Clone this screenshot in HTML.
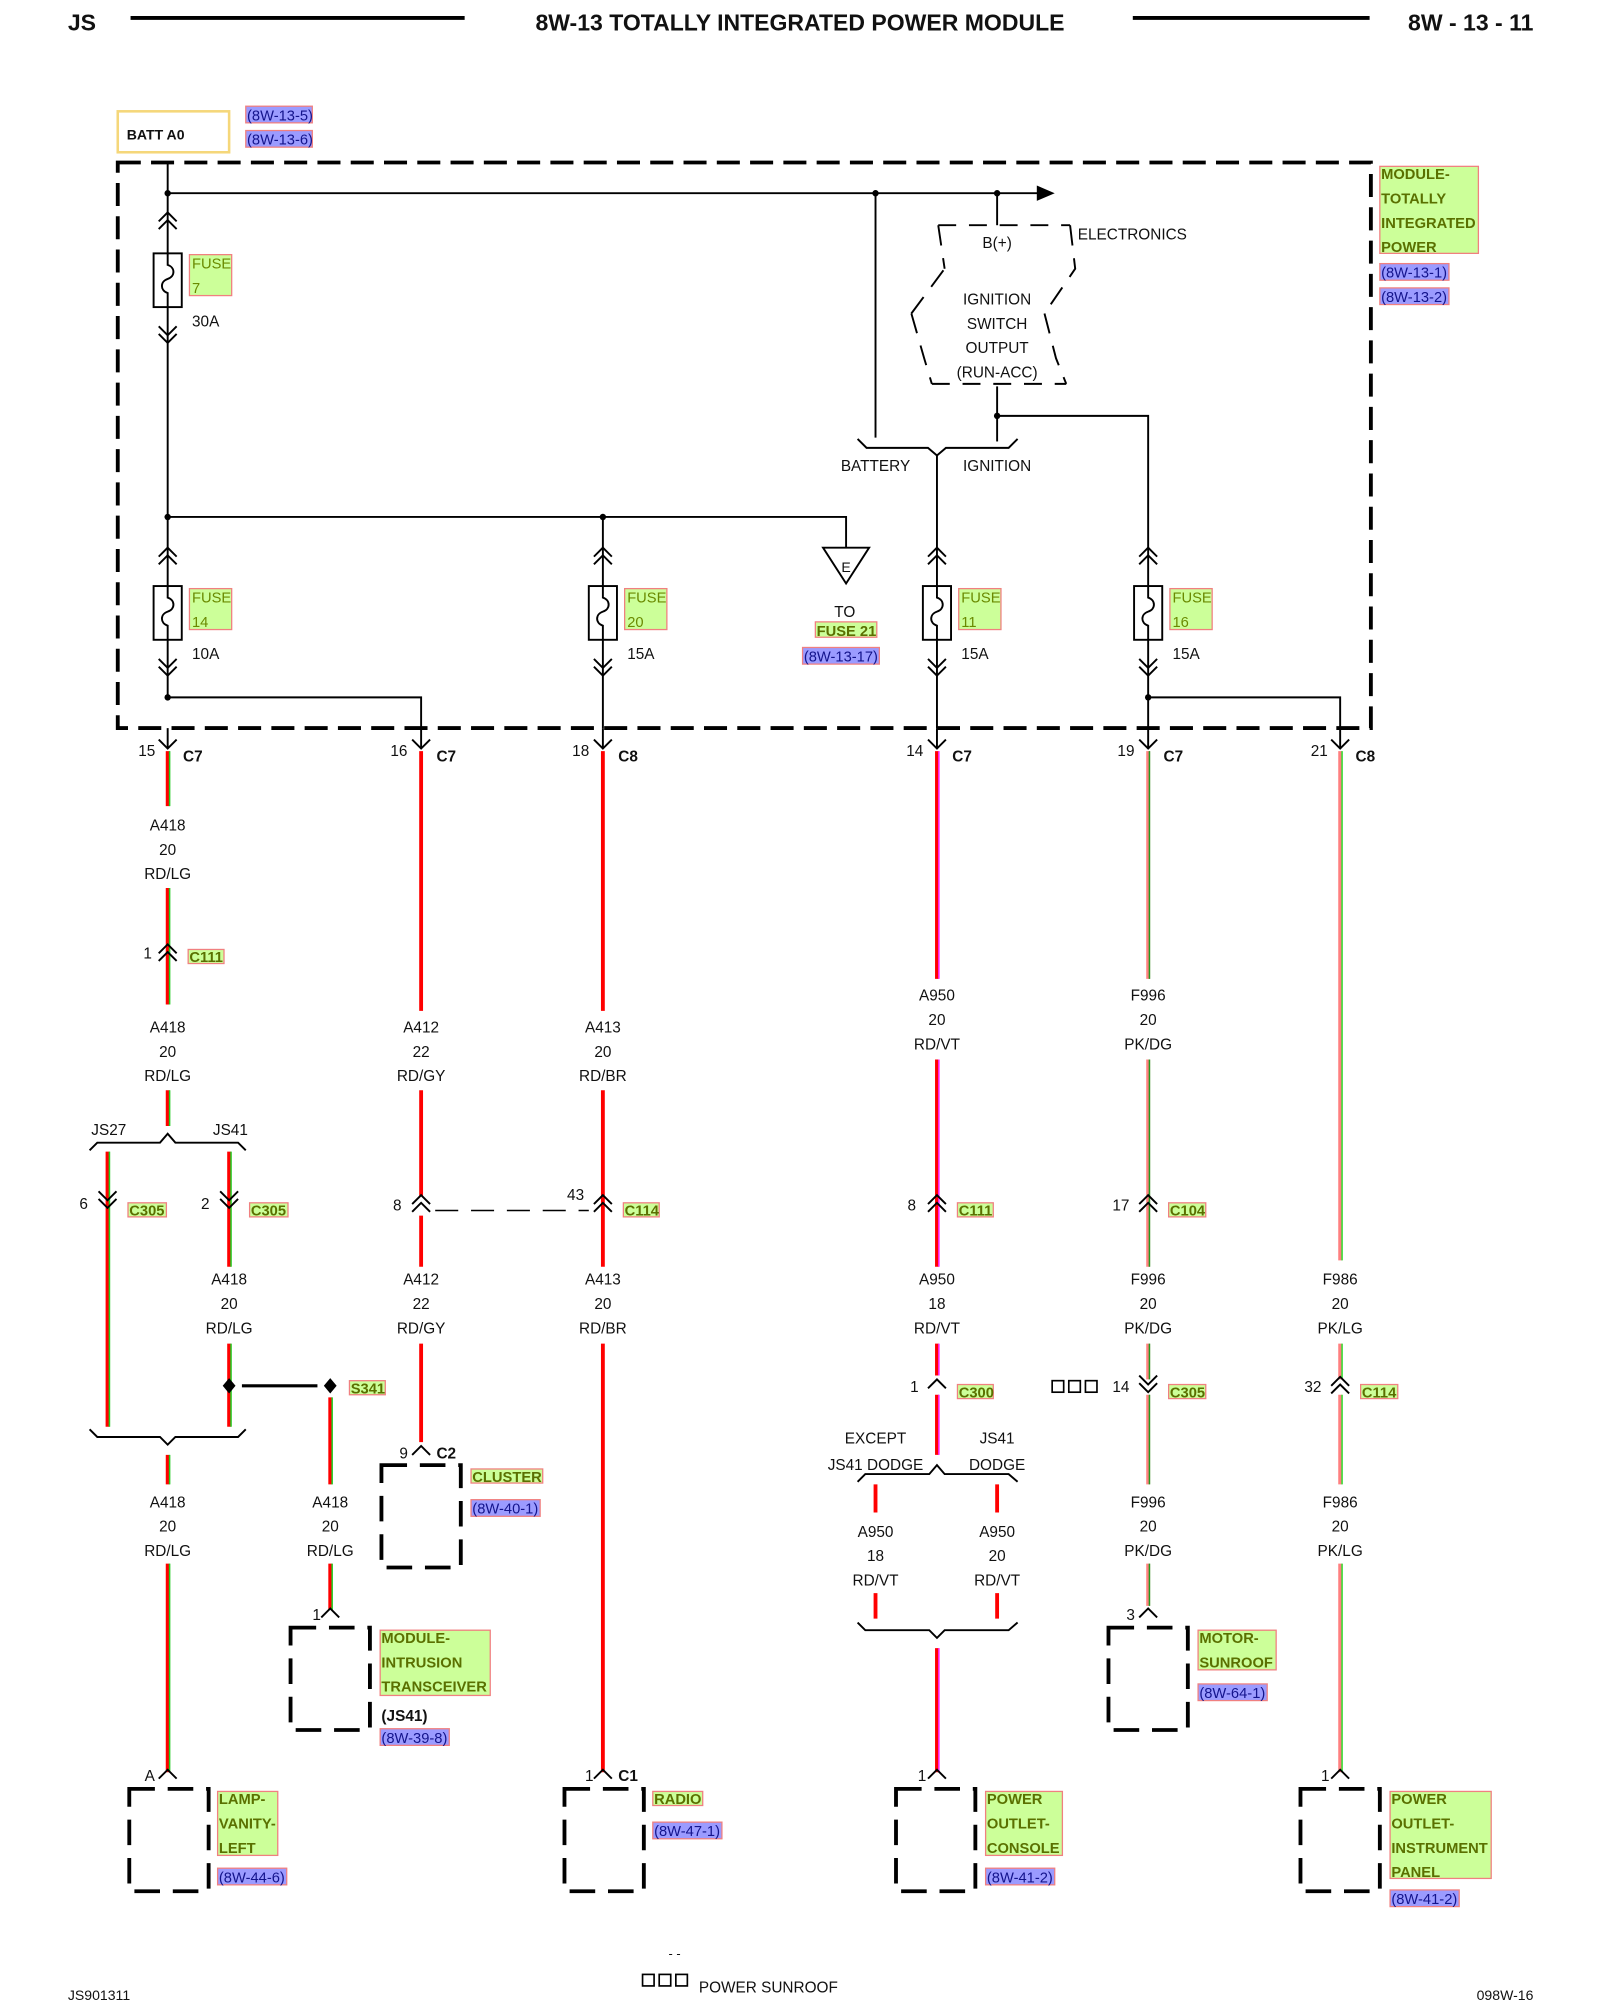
<!DOCTYPE html>
<html><head><meta charset="utf-8"><style>
html,body{margin:0;padding:0;background:#fff}
svg{display:block}
text{font-family:"Liberation Sans",Arial,sans-serif;font-size:12px;fill:#111}
.c{text-anchor:middle}
.b{font-weight:bold}
.k{stroke:#000;fill:none;stroke-width:1.5}
.gl{fill:#ccff99;stroke:#f08080;stroke-width:1}
.gt{fill:#5a7000;font-weight:bold;font-size:11.5px}
.ft{fill:#6a8a00;font-size:11.5px}
.pl{fill:#9b9bff;stroke:#f08080;stroke-width:1}
.pt{fill:#14148c;font-size:11.5px}
.box{fill:none;stroke:#000;stroke-width:3;stroke-dasharray:20 10}
</style></head><body>
<svg width="1600" height="2000" viewBox="0 0 1250 1563" preserveAspectRatio="none" xmlns="http://www.w3.org/2000/svg">
<defs>
<path id="cu" d="M-7,7 L0,0 L7,7" fill="none" stroke="#000" stroke-width="1.5"/>
<path id="du" d="M-7,7 L0,0 L7,7 M-7,13 L0,6 L7,13" fill="none" stroke="#000" stroke-width="1.5"/>
<path id="dd" d="M-7,-7 L0,0 L7,-7 M-7,-13 L0,-6 L7,-13" fill="none" stroke="#000" stroke-width="1.5"/>
<path id="vd" d="M-7,-7 L0,0 L7,-7" fill="none" stroke="#000" stroke-width="1.5"/>
<g id="fuse"><rect x="-11" y="-21" width="22" height="42" fill="#fff" stroke="#000" stroke-width="1.5"/><path d="M0,-21 V-12 C6,-10 6,-3 0,-1 C-6,1 -6,8 0,10 V21" fill="none" stroke="#000" stroke-width="1.5"/></g>
</defs>

<!-- header -->
<text x="53" y="24" class="b" style="font-size:18px">JS</text>
<line x1="102" y1="14" x2="363" y2="14" stroke="#000" stroke-width="3"/>
<text x="625" y="24" class="b c" style="font-size:18px">8W-13 TOTALLY INTEGRATED POWER MODULE</text>
<line x1="885" y1="14" x2="1070" y2="14" stroke="#000" stroke-width="3"/>
<text x="1198" y="24" class="b" style="font-size:18px;text-anchor:end">8W - 13 - 11</text>

<!-- BATT -->
<rect x="92" y="87" width="87" height="32" fill="none" stroke="#f5d77a" stroke-width="2"/>
<text x="99" y="109" class="b" style="font-size:11px">BATT A0</text>
<rect x="192" y="83" width="52" height="13" class="pl"/><text x="193" y="94" class="pt">(8W-13-5)</text>
<rect x="192" y="102" width="52" height="13" class="pl"/><text x="193" y="113" class="pt">(8W-13-6)</text>

<!-- module dashed box -->
<rect x="92" y="127" width="979" height="442" fill="none" stroke="#000" stroke-width="3" stroke-dasharray="18 8"/>
<rect x="1078" y="130" width="77" height="68" class="gl"/>
<text x="1079" y="140" class="gt">MODULE-</text><text x="1079" y="159" class="gt">TOTALLY</text><text x="1079" y="178" class="gt">INTEGRATED</text><text x="1079" y="197" class="gt">POWER</text>
<rect x="1078" y="206" width="54" height="13" class="pl"/><text x="1079" y="217" class="pt">(8W-13-1)</text>
<rect x="1078" y="225" width="54" height="13" class="pl"/><text x="1079" y="236" class="pt">(8W-13-2)</text>

<!-- internal wiring -->
<g class="k">
<path d="M131,127 V545 H329 V569"/>
<path d="M131,151 H812"/>
<path d="M684,151 V342"/>
<path d="M779,151 V176"/>
<path d="M131,404 H661 V428"/>
<path d="M471,404 V569"/>
<path d="M779,302 V325 H897 V569"/>
<path d="M779,325 V345"/>
<path d="M732,355 V569"/>
<path d="M897,545 H1047 V569"/>
<path d="M670,343 L677,350 H725 L732,356 L739,350 H788 L795,343"/>
<path d="M733,176 L738,210 M712,245 L738,210 M712,245 L722,280 L728,300 M836,176 L840,210 L816,245 M816,245 L825,280 L833,300" stroke-dasharray="16 10"/>
<path d="M733,176 H836 M728,300 H833" stroke-dasharray="14 10"/>
<path d="M643,428 H679 L661,456 Z" fill="#fff"/>
</g>
<path d="M810,145 L824,151 L810,157 Z" fill="#000"/>
<circle cx="131" cy="151" r="2.5"/><circle cx="684" cy="151" r="2.5"/><circle cx="779" cy="151" r="2.5"/>
<circle cx="131" cy="404" r="2.5"/><circle cx="471" cy="404" r="2.5"/><circle cx="779" cy="325" r="2.5"/>
<circle cx="131" cy="545" r="2.5"/><circle cx="897" cy="545" r="2.5"/>
<text x="661" y="447" class="c" style="font-size:11px">E</text>

<text x="779" y="194" class="c">B(+)</text>
<text x="842" y="187">ELECTRONICS</text>
<text x="779" y="238" class="c">IGNITION</text>
<text x="779" y="257" class="c">SWITCH</text>
<text x="779" y="276" class="c">OUTPUT</text>
<text x="779" y="295" class="c">(RUN-ACC)</text>
<text x="684" y="368" class="c">BATTERY</text>
<text x="779" y="368" class="c">IGNITION</text>

<!-- fuses -->
<use href="#du" x="131" y="166"/><use href="#fuse" x="131" y="219"/><use href="#dd" x="131" y="268"/>
<rect x="148" y="199" width="33" height="32" class="gl"/><text x="150" y="210" class="ft">FUSE</text><text x="150" y="229" class="ft">7</text>
<text x="150" y="255">30A</text>

<use href="#du" x="131" y="428"/><use href="#fuse" x="131" y="479"/><use href="#dd" x="131" y="528"/>
<rect x="148" y="460" width="33" height="32" class="gl"/><text x="150" y="471" class="ft">FUSE</text><text x="150" y="490" class="ft">14</text>
<text x="150" y="515">10A</text>

<use href="#du" x="471" y="428"/><use href="#fuse" x="471" y="479"/><use href="#dd" x="471" y="528"/>
<rect x="488" y="460" width="33" height="32" class="gl"/><text x="490" y="471" class="ft">FUSE</text><text x="490" y="490" class="ft">20</text>
<text x="490" y="515">15A</text>

<use href="#du" x="732" y="428"/><use href="#fuse" x="732" y="479"/><use href="#dd" x="732" y="528"/>
<rect x="749" y="460" width="33" height="32" class="gl"/><text x="751" y="471" class="ft">FUSE</text><text x="751" y="490" class="ft">11</text>
<text x="751" y="515">15A</text>

<use href="#du" x="897" y="428"/><use href="#fuse" x="897" y="479"/><use href="#dd" x="897" y="528"/>
<rect x="914" y="460" width="33" height="32" class="gl"/><text x="916" y="471" class="ft">FUSE</text><text x="916" y="490" class="ft">16</text>
<text x="916" y="515">15A</text>

<text x="660" y="482" class="c">TO</text>
<rect x="637" y="486" width="48" height="12" class="gl"/><text x="638" y="497" class="gt">FUSE 21</text>
<rect x="627" y="506" width="60" height="13" class="pl"/><text x="628" y="517" class="pt">(8W-13-17)</text>

<!-- connector row -->
<g>
<use href="#vd" x="131" y="585"/><use href="#vd" x="329" y="585"/><use href="#vd" x="471" y="585"/>
<use href="#vd" x="732" y="585"/><use href="#vd" x="897" y="585"/><use href="#vd" x="1047" y="585"/>
<path d="M131,569 V585 M329,569 V585 M471,569 V585 M732,569 V585 M897,569 V585 M1047,569 V585" stroke="#000" stroke-width="1.5"/>
</g>
<text x="108" y="591">15</text><text x="143" y="595" class="b">C7</text>
<text x="305" y="591">16</text><text x="341" y="595" class="b">C7</text>
<text x="447" y="591">18</text><text x="483" y="595" class="b">C8</text>
<text x="708" y="591">14</text><text x="744" y="595" class="b">C7</text>
<text x="873" y="591">19</text><text x="909" y="595" class="b">C7</text>
<text x="1024" y="591">21</text><text x="1059" y="595" class="b">C8</text>

<!-- wires -->
<g stroke-width="3">
<g stroke="#ff0000">
<path d="M131,587 V630 M131,694 V785 M131,852 V880 M84,900 V1115 M179,900 V990 M179,1050 V1115 M258,1092 V1160 M131,1137 V1160 M131,1222 V1385 M258,1222 V1258"/>
<path d="M329,587 V790 M329,852 V935 M329,950 V990 M329,1050 V1127"/>
<path d="M471,587 V790 M471,852 V990 M471,1050 V1385"/>
<path d="M732,587 V765 M732,828 V990 M732,1050 V1075 M732,1090 V1137 M684,1160 V1182 M779,1160 V1182 M684,1245 V1265 M779,1245 V1265 M732,1288 V1385"/>
</g>
<g stroke="#ff8080">
<path d="M897,587 V765 M897,828 V990 M897,1050 V1078 M897,1090 V1160 M897,1222 V1255"/>
<path d="M1047,587 V985 M1047,1050 V1078 M1047,1090 V1160 M1047,1222 V1385"/>
</g>
</g>
<g stroke-width="1.2" fill="none">
<path stroke="#22cc22" d="M132.5,587 V630 M132.5,694 V785 M132.5,852 V880 M85.5,900 V1115 M180.5,900 V990 M180.5,1050 V1115 M259.5,1092 V1160 M132.5,1137 V1160 M132.5,1222 V1385 M259.5,1222 V1258"/>
<path stroke="#ff22ff" d="M733.5,587 V765 M733.5,828 V990 M733.5,1050 V1075 M733.5,1090 V1137 M733.5,1288 V1385"/>
<path stroke="#229922" d="M898,587 V765 M898,828 V990 M898,1050 V1078 M898,1090 V1160 M898,1222 V1255"/>
<path stroke="#33dd33" d="M1048.5,587 V985 M1048.5,1050 V1078 M1048.5,1090 V1160 M1048.5,1222 V1385"/>
</g>

<!-- wire labels -->
<g>
<text x="131" y="649" class="c">A418</text><text x="131" y="668" class="c">20</text><text x="131" y="687" class="c">RD/LG</text>
<text x="131" y="807" class="c">A418</text><text x="131" y="826" class="c">20</text><text x="131" y="845" class="c">RD/LG</text>
<text x="179" y="1004" class="c">A418</text><text x="179" y="1023" class="c">20</text><text x="179" y="1042" class="c">RD/LG</text>
<text x="131" y="1178" class="c">A418</text><text x="131" y="1197" class="c">20</text><text x="131" y="1216" class="c">RD/LG</text>
<text x="258" y="1178" class="c">A418</text><text x="258" y="1197" class="c">20</text><text x="258" y="1216" class="c">RD/LG</text>
<text x="329" y="807" class="c">A412</text><text x="329" y="826" class="c">22</text><text x="329" y="845" class="c">RD/GY</text>
<text x="329" y="1004" class="c">A412</text><text x="329" y="1023" class="c">22</text><text x="329" y="1042" class="c">RD/GY</text>
<text x="471" y="807" class="c">A413</text><text x="471" y="826" class="c">20</text><text x="471" y="845" class="c">RD/BR</text>
<text x="471" y="1004" class="c">A413</text><text x="471" y="1023" class="c">20</text><text x="471" y="1042" class="c">RD/BR</text>
<text x="732" y="782" class="c">A950</text><text x="732" y="801" class="c">20</text><text x="732" y="820" class="c">RD/VT</text>
<text x="732" y="1004" class="c">A950</text><text x="732" y="1023" class="c">18</text><text x="732" y="1042" class="c">RD/VT</text>
<text x="684" y="1201" class="c">A950</text><text x="684" y="1220" class="c">18</text><text x="684" y="1239" class="c">RD/VT</text>
<text x="779" y="1201" class="c">A950</text><text x="779" y="1220" class="c">20</text><text x="779" y="1239" class="c">RD/VT</text>
<text x="897" y="782" class="c">F996</text><text x="897" y="801" class="c">20</text><text x="897" y="820" class="c">PK/DG</text>
<text x="897" y="1004" class="c">F996</text><text x="897" y="1023" class="c">20</text><text x="897" y="1042" class="c">PK/DG</text>
<text x="897" y="1178" class="c">F996</text><text x="897" y="1197" class="c">20</text><text x="897" y="1216" class="c">PK/DG</text>
<text x="1047" y="1004" class="c">F986</text><text x="1047" y="1023" class="c">20</text><text x="1047" y="1042" class="c">PK/LG</text>
<text x="1047" y="1178" class="c">F986</text><text x="1047" y="1197" class="c">20</text><text x="1047" y="1216" class="c">PK/LG</text>
</g>

<!-- inline connectors -->
<use href="#du" x="131" y="738"/><text x="112" y="749">1</text>
<rect x="147" y="742" width="28" height="11" class="gl"/><text x="148" y="752" class="gt">C111</text>

<path class="k" d="M70,899 L76,893 H125 L131,886 L137,893 H186 L192,899"/>
<text x="85" y="887" class="c">JS27</text><text x="180" y="887" class="c">JS41</text>
<use href="#dd" x="84" y="944"/><text x="62" y="945">6</text>
<rect x="100" y="940" width="30" height="11" class="gl"/><text x="101" y="950" class="gt">C305</text>
<use href="#dd" x="179" y="944"/><text x="157" y="945">2</text>
<rect x="195" y="940" width="30" height="11" class="gl"/><text x="196" y="950" class="gt">C305</text>

<path d="M179,1077 L184,1083 L179,1089 L174,1083 Z M258,1077 L263,1083 L258,1089 L253,1083 Z"/>
<line x1="189" y1="1083" x2="248" y2="1083" stroke="#000" stroke-width="2.5"/>
<rect x="273" y="1079" width="28" height="11" class="gl"/><text x="274" y="1089" class="gt">S341</text>

<path class="k" d="M70,1117 L76,1123 H125 L131,1129 L137,1123 H186 L192,1117"/>

<use href="#du" x="329" y="934"/><text x="307" y="946">8</text>
<path d="M340,946 H460" stroke="#000" stroke-width="1.2" stroke-dasharray="18 10"/>
<use href="#du" x="471" y="934"/><text x="443" y="938">43</text>
<rect x="487" y="940" width="28" height="11" class="gl"/><text x="488" y="950" class="gt">C114</text>

<use href="#du" x="732" y="934"/><text x="709" y="946">8</text>
<rect x="748" y="940" width="28" height="11" class="gl"/><text x="749" y="950" class="gt">C111</text>
<use href="#du" x="897" y="934"/><text x="869" y="946">17</text>
<rect x="913" y="940" width="29" height="11" class="gl"/><text x="914" y="950" class="gt">C104</text>

<use href="#cu" x="732" y="1078"/><text x="711" y="1088">1</text>
<rect x="748" y="1082" width="28" height="11" class="gl"/><text x="749" y="1092" class="gt">C300</text>
<text x="684" y="1128" class="c">EXCEPT</text><text x="684" y="1149" class="c">JS41 DODGE</text>
<text x="779" y="1128" class="c">JS41</text><text x="779" y="1149" class="c">DODGE</text>
<path class="k" d="M670,1158 L676,1152 H726 L732,1145 L738,1152 H788 L795,1158"/>
<path class="k" d="M670,1268 L676,1274 H726 L732,1280 L738,1274 H788 L795,1268"/>

<g fill="none" stroke="#000" stroke-width="1.3"><rect x="822" y="1079" width="9" height="9"/><rect x="835" y="1079" width="9" height="9"/><rect x="848" y="1079" width="9" height="9"/></g>
<use href="#dd" x="897" y="1088"/><text x="869" y="1088">14</text>
<rect x="913" y="1082" width="29" height="11" class="gl"/><text x="914" y="1092" class="gt">C305</text>
<use href="#du" x="1047" y="1076"/><text x="1019" y="1088">32</text>
<rect x="1063" y="1082" width="29" height="11" class="gl"/><text x="1064" y="1092" class="gt">C114</text>

<!-- components -->
<use href="#cu" x="329" y="1130"/><text x="312" y="1140">9</text><text x="341" y="1140" class="b">C2</text>
<rect x="298" y="1145" width="62" height="80" class="box"/>
<rect x="368" y="1148" width="56" height="11" class="gl"/><text x="369" y="1158" class="gt">CLUSTER</text>
<rect x="368" y="1172" width="54" height="13" class="pl"/><text x="369" y="1183" class="pt">(8W-40-1)</text>

<use href="#cu" x="258" y="1257"/><text x="244" y="1266">1</text>
<rect x="227" y="1272" width="62" height="80" class="box"/>
<rect x="297" y="1274" width="86" height="51" class="gl"/>
<text x="298" y="1284" class="gt">MODULE-</text><text x="298" y="1303" class="gt">INTRUSION</text><text x="298" y="1322" class="gt">TRANSCEIVER</text>
<text x="298" y="1345" class="b">(JS41)</text>
<rect x="297" y="1351" width="54" height="13" class="pl"/><text x="298" y="1362" class="pt">(8W-39-8)</text>

<use href="#cu" x="131" y="1383"/><text x="113" y="1392">A</text>
<rect x="101" y="1398" width="62" height="80" class="box"/>
<rect x="170" y="1400" width="47" height="50" class="gl"/>
<text x="171" y="1410" class="gt">LAMP-</text><text x="171" y="1429" class="gt">VANITY-</text><text x="171" y="1448" class="gt">LEFT</text>
<rect x="170" y="1460" width="54" height="13" class="pl"/><text x="171" y="1471" class="pt">(8W-44-6)</text>

<use href="#cu" x="471" y="1383"/><text x="457" y="1392">1</text><text x="483" y="1392" class="b">C1</text>
<rect x="441" y="1398" width="62" height="80" class="box"/>
<rect x="510" y="1400" width="39" height="11" class="gl"/><text x="511" y="1410" class="gt">RADIO</text>
<rect x="510" y="1424" width="54" height="13" class="pl"/><text x="511" y="1435" class="pt">(8W-47-1)</text>

<use href="#cu" x="732" y="1383"/><text x="717" y="1392">1</text>
<rect x="700" y="1398" width="62" height="80" class="box"/>
<rect x="770" y="1400" width="60" height="50" class="gl"/>
<text x="771" y="1410" class="gt">POWER</text><text x="771" y="1429" class="gt">OUTLET-</text><text x="771" y="1448" class="gt">CONSOLE</text>
<rect x="770" y="1460" width="54" height="13" class="pl"/><text x="771" y="1471" class="pt">(8W-41-2)</text>

<use href="#cu" x="897" y="1257"/><text x="880" y="1266">3</text>
<rect x="866" y="1272" width="62" height="80" class="box"/>
<rect x="936" y="1274" width="61" height="31" class="gl"/>
<text x="937" y="1284" class="gt">MOTOR-</text><text x="937" y="1303" class="gt">SUNROOF</text>
<rect x="936" y="1316" width="54" height="13" class="pl"/><text x="937" y="1327" class="pt">(8W-64-1)</text>

<use href="#cu" x="1047" y="1383"/><text x="1032" y="1392">1</text>
<rect x="1016" y="1398" width="62" height="80" class="box"/>
<rect x="1086" y="1400" width="79" height="68" class="gl"/>
<text x="1087" y="1410" class="gt">POWER</text><text x="1087" y="1429" class="gt">OUTLET-</text><text x="1087" y="1448" class="gt">INSTRUMENT</text><text x="1087" y="1467" class="gt">PANEL</text>
<rect x="1086" y="1477" width="54" height="13" class="pl"/><text x="1087" y="1488" class="pt">(8W-41-2)</text>

<!-- footer -->
<text x="53" y="1563" style="font-size:11px">JS901311</text>
<text x="527" y="1530" class="c" style="font-size:10px">- -</text>
<g fill="none" stroke="#000" stroke-width="1.3"><rect x="502" y="1543" width="9" height="9"/><rect x="515" y="1543" width="9" height="9"/><rect x="528" y="1543" width="9" height="9"/></g>
<text x="546" y="1557">POWER SUNROOF</text>
<text x="1198" y="1563" style="font-size:11px;text-anchor:end">098W-16</text>
</svg>
</body></html>
